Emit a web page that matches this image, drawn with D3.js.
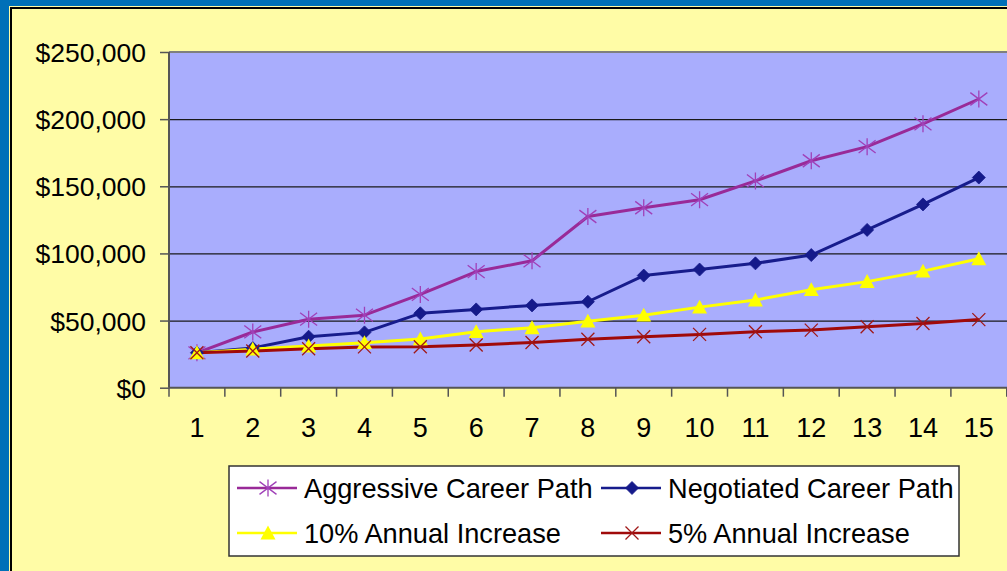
<!DOCTYPE html>
<html><head><meta charset="utf-8">
<script src="https://cdn.jsdelivr.net/npm/d3@7"></script>
<style>
html,body{margin:0;padding:0;background:#0070B8;}
svg{display:block;}
text{font-family:"Liberation Sans",Arial,sans-serif;fill:#000;}
</style></head>
<body>
<svg id="chart" width="1007" height="571"></svg>
<script>
const years = [1,2,3,4,5,6,7,8,9,10,11,12,13,14,15];
const aggressive = [26000,41500,51000,54000,69500,86500,94500,127500,134000,140000,154000,169000,179500,196500,215000];
const negotiated = [26000,29500,38000,41200,55400,58300,61300,64000,83500,88000,92600,98800,117500,136500,156500];
const tenPercent = [26000,28700,31000,33500,36300,41700,44600,49500,54000,60000,65300,73000,79000,86800,96000];
const fivePercent = [26000,27300,29000,30400,30500,31800,33600,36100,38000,39700,41700,42900,45400,47800,50700];
const yTicks = [0,50000,100000,150000,200000,250000];
const seriesNames = ["Aggressive Career Path","Negotiated Career Path","10% Annual Increase","5% Annual Increase"];

const svg = d3.select("#chart");
const W = 1007, H = 571;

// frame
svg.append("rect").attr("x",0).attr("y",0).attr("width",W).attr("height",H).attr("fill","#0070B8");
svg.append("rect").attr("x",9.5).attr("y",6.5).attr("width",W).attr("height",H).attr("fill","#FFFCA6").attr("stroke","#FFFCA6").attr("stroke-width",1);
svg.append("rect").attr("x",11).attr("y",8).attr("width",W).attr("height",H).attr("fill","#FFFCA6").attr("stroke","#000").attr("stroke-width",2);

const pLeft = 169, pTop = 52, pBottom = 387.7, pRight = 169 + 15*55.85;
const x = d3.scaleBand().domain(years).range([pLeft, pRight]).padding(0);
const y = d3.scaleLinear().domain([0,250000]).range([pBottom, pTop]);

// plot area
svg.append("rect").attr("x",pLeft).attr("y",pTop).attr("width",W-pLeft+2).attr("height",pBottom-pTop).attr("fill","#A9ADFD");

// gridlines
svg.append("g").attr("transform",`translate(${pLeft},0)`)
  .call(d3.axisLeft(y).tickValues(yTicks.slice(1)).tickSize(-(W-pLeft+2)).tickFormat(""))
  .call(g=>g.select(".domain").remove())
  .call(g=>g.selectAll("line").attr("stroke","#1a1a1a").attr("stroke-width",1.2));
svg.append("line").attr("x1",pLeft).attr("x2",W).attr("y1",pTop).attr("y2",pTop).attr("stroke","#7f7f7f").attr("stroke-width",2);

// y axis
const yAxis = svg.append("g").attr("transform",`translate(${pLeft},0)`)
  .call(d3.axisLeft(y).tickValues(yTicks).tickSize(9).tickPadding(14).tickFormat(d=>"$"+d3.format(",")(d)));
yAxis.select(".domain").attr("stroke","#555").attr("stroke-width",2).attr("d",`M0,${pTop}V${pBottom}`);
yAxis.selectAll("line").attr("stroke","#555").attr("stroke-width",1.5);
yAxis.selectAll("text").attr("font-size","26.5px").attr("font-family","Liberation Sans, Arial, sans-serif").attr("fill","#000").attr("dy","0.36em");

// x axis
const xAxis = svg.append("g").attr("transform",`translate(0,${pBottom})`)
  .call(d3.axisBottom(x).tickSize(0).tickPadding(30));
xAxis.select(".domain").attr("stroke","#555").attr("stroke-width",2).attr("d",`M${pLeft},0H${W}`);
xAxis.selectAll("text").attr("font-size","27px").attr("font-family","Liberation Sans, Arial, sans-serif").attr("fill","#000");
const bounds = years.map(d=>x(d)).concat([pRight]);
xAxis.selectAll(".xt").data(bounds).enter().append("line").attr("class","xt")
  .attr("x1",d=>d).attr("x2",d=>d).attr("y1",0).attr("y2",9).attr("stroke","#555").attr("stroke-width",1.5);

const cx = d => x(d) + x.bandwidth()/2;

const series = [
  {name:seriesNames[0], values:aggressive, color:"#992A98", mcolor:"#A040B8", marker:"star"},
  {name:seriesNames[1], values:negotiated, color:"#171C8C", mcolor:"#151A8A", marker:"diamond"},
  {name:seriesNames[2], values:tenPercent, color:"#FFFF00", mcolor:"#FFFF00", marker:"triangle"},
  {name:seriesNames[3], values:fivePercent, color:"#A00A0A", mcolor:"#A01818", marker:"x"}
];

function drawMarker(g, type, color, px, py, scale=1){
  if(type==="star"){
    const r = 8.5*scale;
    const p = `M${px},${py-r}V${py+r}M${px-r},${py-r*0.75}L${px+r},${py+r*0.75}M${px-r},${py+r*0.75}L${px+r},${py-r*0.75}`;
    g.append("path").attr("d",p).attr("stroke",color).attr("stroke-width",1.3).attr("fill","none");
  } else if(type==="diamond"){
    const r = 6.5*scale;
    g.append("path").attr("d",`M${px},${py-r}L${px+r},${py}L${px},${py+r}L${px-r},${py}Z`).attr("fill",color).attr("stroke",color).attr("stroke-width",0.8);
  } else if(type==="triangle"){
    const r = 7.5*scale;
    g.append("path").attr("d",`M${px},${py-r}L${px+r},${py+r*0.85}L${px-r},${py+r*0.85}Z`).attr("fill",color);
  } else if(type==="x"){
    const r = 6.5*scale;
    g.append("path").attr("d",`M${px-r},${py-r}L${px+r},${py+r}M${px-r},${py+r}L${px+r},${py-r}`).attr("stroke",color).attr("stroke-width",1.3).attr("fill","none");
  }
}

const line = d3.line().x((d,i)=>cx(years[i])).y(d=>y(d));
const lg = svg.append("g");
series.forEach(s=>{
  lg.append("path").datum(s.values).attr("d",line).attr("fill","none").attr("stroke",s.color).attr("stroke-width",3).attr("stroke-linejoin","round");
});
series.forEach(s=>{
  const mg = lg.append("g");
  s.values.forEach((v,i)=>drawMarker(mg, s.marker, s.mcolor, cx(years[i]), y(v)));
});

// legend
const legend = svg.append("g");
legend.append("rect").attr("x",229).attr("y",466).attr("width",730).attr("height",90).attr("fill","#fff").attr("stroke","#333").attr("stroke-width",1.5);
const legPos = [[237,488],[601,488],[237,533],[601,533]];
series.forEach((s,i)=>{
  const [lx,ly] = legPos[i];
  legend.append("line").attr("x1",lx).attr("x2",lx+60).attr("y1",ly).attr("y2",ly).attr("stroke",s.color).attr("stroke-width",2.5);
  drawMarker(legend, s.marker, s.mcolor, lx+31, ly);
  legend.append("text").attr("x",lx+67).attr("y",ly).attr("dy","0.36em").attr("font-size","27.2px").text(s.name);
});
</script>
</body></html>
